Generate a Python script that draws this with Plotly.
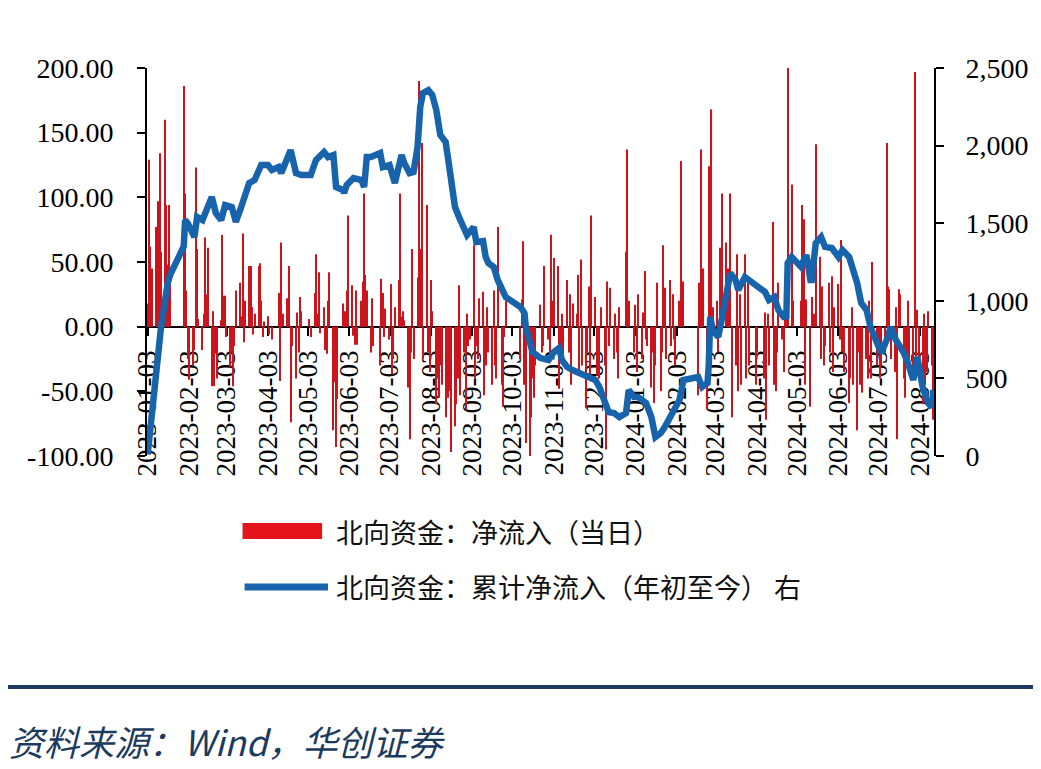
import pandas as pd
import plotly.graph_objects as go

# days when the northbound channel was closed
holidays = [
    "2023-01-23", "2023-01-24", "2023-01-25", "2023-01-26", "2023-01-27",
    "2023-04-05", "2023-04-07", "2023-04-10", "2023-05-01", "2023-05-02",
    "2023-05-03", "2023-05-26", "2023-06-22", "2023-06-23", "2023-09-29",
    "2023-10-02", "2023-10-03", "2023-10-04", "2023-10-05", "2023-10-06",
    "2023-10-23", "2023-12-25", "2023-12-26",
    "2024-01-01", "2024-02-09", "2024-02-12", "2024-02-13", "2024-02-14",
    "2024-02-15", "2024-02-16", "2024-03-29", "2024-04-01", "2024-04-04",
    "2024-04-05", "2024-05-01", "2024-05-02", "2024-05-03", "2024-05-15",
    "2024-06-10", "2024-07-01",
]

# daily net inflow, 亿元, one row per month
flow_2023 = [
    18, 129, 62, 45, 77, 76, 97, 134, 58, 160, 94, 48, 94, 40, 186, 103,
    28, -25, -41, -30, -18, 123, 60, 6, -18, 10, 69, 25, 61, -46, 12, -46, -21, -40, 5, 71,
    24, 24, -8, -31, -20, -46, -15, 28, 34, 8, 72, -12, 20, 47, 47, 15, -6, 10, 47, 49, 20, -8, 4,
    8, -6, -10, 26, -42, 65, 10, 22, 20, 47, -74, -15, -40, 11, -20, 23, 12,
    6, -8, 26, 56, 10, 42, -5, 15, -18, -21, 20, 42, -80, -43, -93, -56, 18, 8, 12,
    28, 86, 32, -7, -14, 28, -14, 20, 35, 103, 40, 28, -20, 22, -15, -30, 37, 26, -8, 14,
    -10, 33, -37, -25, 15, 36, 103, 8, 12, 5, -47, -87, -20, 60, -25, 38, 190, 60, 142, -25, 94,
    -20, -35, 36, 12, -60, -40, -55, -30, -45, -70, -25, -55, -50, -97, -77, -60, -40, 32, -53, -20, -64, 10, -15,
    -10, 63, -40, -15, -25, 22, 27, -53, -30, 15, -20, -45, 28, -30, -40, 77, -45, -62, -8, 20,
    -25, 21, 66, -45, -90, -103, -70, -40, -55, -30, 17, -20, -15, 47, -10, -25,
    71, 20, 53, 47, -48, -25, 10, -30, 36, -20, 25, -45, 18, 10, 40, -35, 52, -30, -63, -20, 31, -40,
    86, 23, -38, -20, -40, 15, -30, -95, 35, -15, 30, -25, 10, -20, -40, 15, 58, 137, 20,
]
flow_2024 = [
    -20, 17, -35, 25, -25, 11, 43, -10, -15, -47, -20, -59, -30, 34, -50, -20, 63, 30, -25, 36, -15, 25,
    -10, -30, 20, 128, 30, 35, -53, 34, 137, 36, 45, -64, 124, 60, 168,
    15, 20, -20, 61, 30, 103, 65, 45, 30, 103, -70, -30, 56, -50, 25, -45, 56, -40, 34, -30,
    -45, -20, -40, 11, -72, 10, -30, 81, -45, -50, -20, 34, -10, -35, 15, 40, 200, 110, 20,
    20, 94, 83, -45, 21, -62, 23, 10, 141, 54, -25, 31, -30, -15, 34, -20, 39, -35, 15,
    33, -10, 67, -20, -35, -59, -40, 15, -45, -80, -20, -45, -30, -51, -25, -40, 20, -40, 50,
    -30, -20, -40, -30, -20, 142, 31, 29, -25, -35, 15, -87, 29, 25, -40, -55, -30, 20, -25, -40, 197, -30,
    13, -40, -60, 10, -45, -35, 12, -30, -72,
]

# cumulative net inflow (right axis)
cum_dates = [
    "2023-01-03", "2023-01-09", "2023-01-13", "2023-01-18", "2023-01-20", "2023-01-30",
    "2023-01-31", "2023-02-02", "2023-02-07", "2023-02-09", "2023-02-13", "2023-02-20",
    "2023-02-23", "2023-02-27", "2023-03-02", "2023-03-07", "2023-03-10", "2023-03-14",
    "2023-03-20", "2023-03-24", "2023-03-29", "2023-04-03", "2023-04-06", "2023-04-11",
    "2023-04-13", "2023-04-17", "2023-04-20", "2023-04-24", "2023-04-28", "2023-05-05",
    "2023-05-09", "2023-05-15", "2023-05-18", "2023-05-22", "2023-05-24", "2023-05-29",
    "2023-05-30", "2023-06-01", "2023-06-06", "2023-06-12", "2023-06-14", "2023-06-16",
    "2023-06-19", "2023-06-26", "2023-06-28", "2023-07-03", "2023-07-06", "2023-07-07",
    "2023-07-12", "2023-07-14", "2023-07-18", "2023-07-21", "2023-07-24", "2023-07-26",
    "2023-07-28", "2023-08-01", "2023-08-04", "2023-08-07", "2023-08-10", "2023-08-14",
    "2023-08-16", "2023-08-18", "2023-08-21", "2023-08-24", "2023-08-28", "2023-08-30",
    "2023-09-04", "2023-09-06", "2023-09-11", "2023-09-13", "2023-09-15", "2023-09-19",
    "2023-09-22", "2023-09-25", "2023-09-28", "2023-10-09", "2023-10-12", "2023-10-13",
    "2023-10-16", "2023-10-18", "2023-10-24", "2023-10-30", "2023-11-03", "2023-11-07",
    "2023-11-09", "2023-11-13", "2023-11-17", "2023-11-23", "2023-11-28", "2023-12-04",
    "2023-12-07", "2023-12-11", "2023-12-14", "2023-12-18", "2023-12-22", "2023-12-27",
    "2023-12-28", "2023-12-29", "2024-01-02", "2024-01-05", "2024-01-11", "2024-01-15",
    "2024-01-18", "2024-01-22", "2024-01-25", "2024-01-29", "2024-02-01", "2024-02-05",
    "2024-02-08", "2024-02-19", "2024-02-22", "2024-02-26", "2024-02-27", "2024-02-28",
    "2024-03-01", "2024-03-05", "2024-03-08", "2024-03-12", "2024-03-14", "2024-03-18",
    "2024-03-20", "2024-03-25", "2024-03-28", "2024-04-03", "2024-04-09", "2024-04-12",
    "2024-04-16", "2024-04-19", "2024-04-23", "2024-04-25", "2024-04-26", "2024-04-29",
    "2024-05-06", "2024-05-07", "2024-05-10", "2024-05-13", "2024-05-14", "2024-05-17",
    "2024-05-21", "2024-05-24", "2024-05-29", "2024-06-03", "2024-06-06", "2024-06-11",
    "2024-06-17", "2024-06-20", "2024-06-24", "2024-06-27", "2024-07-03", "2024-07-05",
    "2024-07-10", "2024-07-12", "2024-07-16", "2024-07-22", "2024-07-25", "2024-07-29",
    "2024-08-01", "2024-08-05", "2024-08-09", "2024-08-12", "2024-08-13",
]
cum_values = [
    10, 470, 831, 1114, 1170, 1350,
    1520, 1500, 1411, 1540, 1520, 1669,
    1565, 1520, 1617, 1604, 1508, 1604,
    1759, 1778, 1875, 1875, 1843, 1862,
    1823, 1907, 1971, 1823, 1810, 1810,
    1907, 1958, 1926, 1939, 1733, 1714,
    1694, 1746, 1791, 1778, 1733, 1926,
    1926, 1952, 1862, 1875, 1765, 1759,
    1939, 1888, 1823, 1830, 1991, 2249,
    2339, 2358, 2326, 2230, 2068, 2023,
    1907, 1798, 1604, 1540, 1475, 1424,
    1475, 1379, 1385, 1282, 1243, 1218,
    1134, 1070, 1024, 960, 921, 831,
    728, 670, 631, 618, 670, 696,
    618, 573, 554, 535, 509, 490,
    445, 361, 283, 277, 251, 277,
    425, 425, 380, 380, 341, 251,
    122, 148, 187, 251, 277, 361,
    490, 509, 445, 470, 599, 896,
    812, 767, 896, 1114, 1179, 1134,
    1070, 1153, 1134, 1089, 1057, 1005,
    1024, 941, 896, 900, 1243, 1282,
    1218, 1243, 1295, 1134, 1134, 1372,
    1411, 1347, 1340, 1282, 1327, 1282,
    1114, 986, 941, 831, 702, 664,
    767, 831, 747, 664, 599, 490,
    638, 445, 341, 316, 425,
]

tick_dates = [
    "2023-01-03", "2023-02-03", "2023-03-03", "2023-04-03", "2023-05-03",
    "2023-06-03", "2023-07-03", "2023-08-03", "2023-09-03", "2023-10-03",
    "2023-11-03", "2023-12-03", "2024-01-03", "2024-02-03", "2024-03-03",
    "2024-04-03", "2024-05-03", "2024-06-03", "2024-07-03", "2024-08-03",
]
left_ticks = [-100, -50, 0, 50, 100, 150, 200]
left_text = ["-100.00", "-50.00", "0.00", "50.00", "100.00", "150.00", "200.00"]
right_ticks = [0, 500, 1000, 1500, 2000, 2500]
right_text = ["0", "500", "1,000", "1,500", "2,000", "2,500"]

days = pd.bdate_range("2023-01-03", "2024-08-13")
days = days[~days.isin(pd.to_datetime(holidays))]
flows = flow_2023 + flow_2024
assert len(flows) == len(days), (len(flows), len(days))
assert len(cum_dates) == len(cum_values)

RED = "#cc141c"
BLUE = "#1764ad"
NAVY = "#1b3a5e"
num_font = dict(family="Liberation Serif", size=28, color="black")
date_font = dict(family="Liberation Serif", size=27, color="black")
cjk = "Noto Sans CJK SC"

fig = go.Figure()

fig.add_trace(go.Bar(
    x=days, y=flows,
    width=0.8 * 86400000,
    marker=dict(color=RED, line_width=0),
    name="北向资金：净流入（当日）",
))

fig.add_trace(go.Scatter(
    x=cum_dates, y=cum_values, yaxis="y2",
    mode="lines",
    line=dict(color=BLUE, width=6.5),
    name="北向资金：累计净流入（年初至今） 右",
))

axis_common = dict(
    showline=True, linecolor="black", linewidth=2,
    ticks="outside", ticklen=8, tickwidth=2, tickcolor="black",
    showgrid=False, zeroline=False,
)

# the page body adds an 8px offset, so the figure is 8px smaller at top/left
fig.update_layout(
    width=1033, height=761,
    margin=dict(l=139, r=103, t=60, b=313),
    paper_bgcolor="white", plot_bgcolor="white",
    showlegend=False,
    xaxis=dict(
        type="date",
        range=["2023-01-02 12:00", "2024-08-13 12:00"],
        anchor="free", position=1 / 3,
        tickvals=tick_dates, ticktext=tick_dates, tickangle=-90,
        tickfont=date_font,
        layer="below traces", ticklabelstandoff=4,
        **axis_common,
    ),
    yaxis=dict(
        range=[-100, 200], tickvals=left_ticks, ticktext=left_text,
        tickfont=num_font, ticklabelstandoff=18,
        **axis_common,
    ),
    yaxis2=dict(
        range=[0, 2500], tickvals=right_ticks, ticktext=right_text,
        overlaying="y", side="right", ticklabelstandoff=16,
        tickfont=num_font,
        **axis_common,
    ),
)

# legend drawn by hand: long red box and long blue stroke
fig.add_shape(type="rect", xref="paper", yref="paper",
              x0=0.1214, x1=0.2225, y0=-0.2139, y1=-0.1727,
              fillcolor="#e3141c", line_width=0)
fig.add_shape(type="line", xref="paper", yref="paper",
              x0=0.1240, x1=0.2300, y0=-0.3376, y1=-0.3376,
              line=dict(color=BLUE, width=7))
fig.add_annotation(xref="paper", yref="paper", x=0.2377, y=-0.1933,
                   xanchor="left", yanchor="middle", showarrow=False,
                   text="北向资金：净流入（当日）",
                   font=dict(family=cjk, size=27, color="#111111"))
fig.add_annotation(xref="paper", yref="paper", x=0.2377, y=-0.3376,
                   xanchor="left", yanchor="middle", showarrow=False,
                   text="北向资金：累计净流入（年初至今） 右",
                   font=dict(family=cjk, size=27, color="#111111"))

# footer rule and source
fig.add_shape(type="line", xref="paper", yref="paper",
              x0=-0.19, x1=1.14, y0=-0.5954, y1=-0.5954,
              line=dict(color=NAVY, width=4))
fig.add_annotation(xref="paper", yref="paper", x=-0.1780, y=-0.732,
                   xanchor="left", yanchor="middle", showarrow=False,
                   text="<i>资料来源：Wind，华创证券</i>",
                   font=dict(family=cjk, size=35, color=NAVY))

fig.write_html("out.html")
